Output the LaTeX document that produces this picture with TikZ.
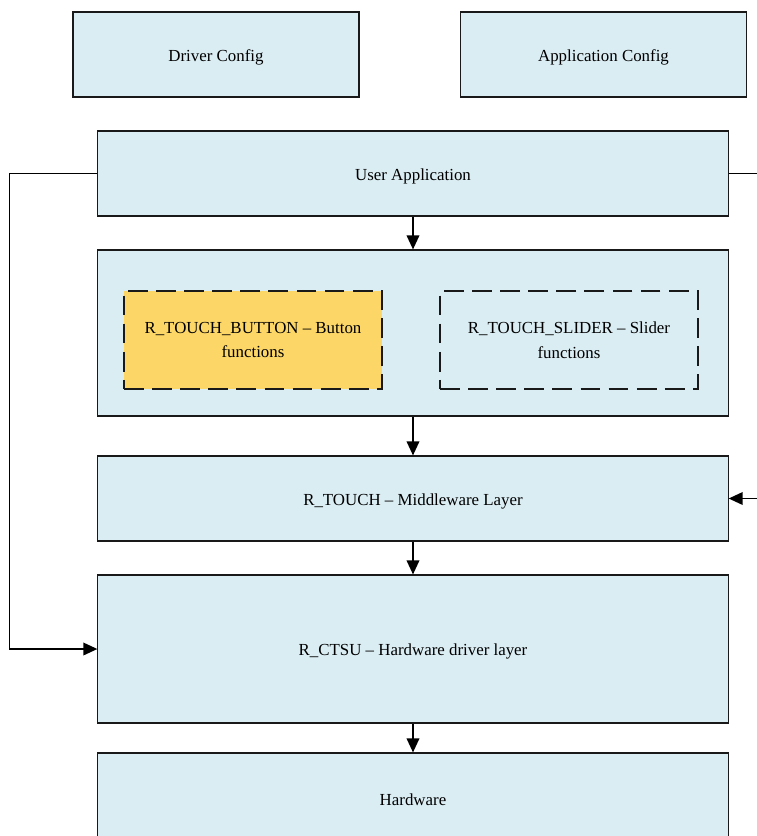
\documentclass[tikz,border=0pt]{standalone}
\usepackage{fontspec}
\setmainfont{Liberation Serif}
\usetikzlibrary{arrows.meta}

\definecolor{layerblue}{HTML}{DAEDF3}
\definecolor{modgold}{HTML}{FCD768}

\begin{document}
\begin{tikzpicture}[x=0.025cm, y=-0.025cm,
    layer/.style={draw=black!90, line width=0.8pt, fill=layerblue, inner sep=0pt,
        minimum width=15.75cm, minimum height=2.125cm, align=center,
        text height=9.5pt, text depth=0pt,
        font=\fontsize{12}{17.5}\selectfont},
    cfgbox/.style={layer, minimum width=7.15cm},
    module/.style={draw=black!90, line width=1pt, dash pattern=on 14pt off 6pt,
        inner sep=0pt, minimum width=6.45cm, minimum height=2.45cm, align=center,
        font=\fontsize{12}{17.5}\selectfont},
    wire/.style={line width=1.1pt},
    arr/.style={wire, -{Triangle[length=10pt, width=9pt]}}]

    % Page frame
    \useasboundingbox (0,0) rectangle (757,836);
    \clip (0,0) rectangle (757,836);

    % Configuration boxes
    \node[cfgbox] (drvcfg) at (216,54.5) {Driver Config};
    \node[cfgbox] (appcfg) at (603.5,54.5) {Application Config};

    % Application layer
    \node[layer] (userapp) at (413,173.5) {User Application};

    % Container holding the touch modules
    \node[layer, minimum height=4.15cm] (funcs) at (413,333) {};
    \node[module, fill=modgold] (button) at (253,340)
        {R\_TOUCH\_BUTTON -- Button\\functions};
    \node[module] (slider) at (569,340)
        {R\_TOUCH\_SLIDER -- Slider\\functions};

    % Middleware, driver and hardware layers
    \node[layer] (middle) at (413,498.5) {R\_TOUCH -- Middleware Layer};
    \node[layer, minimum height=3.7cm] (ctsu) at (413,649) {R\_CTSU -- Hardware driver layer};
    \node[layer, minimum height=2.3cm] (hw) at (413,799) {Hardware};

    % Free ends at the right border
    \coordinate (uaout) at (757,173.5);
    \coordinate (mwin) at (757,498.5);

    % Downward flow through the stack
    \draw[arr] (userapp) -- (funcs);
    \draw[arr] (funcs) -- (middle);
    \draw[arr] (middle) -- (ctsu);
    \draw[arr] (ctsu) -- (hw);

    % Direct path from the application to the driver
    \draw[arr] (userapp.west) -- ++(-88,0) |- (ctsu.west);

    % Side connections
    \draw[wire] (userapp.east) -- (uaout);
    \draw[arr] (mwin) -- (middle.east);

\end{tikzpicture}
\end{document}
